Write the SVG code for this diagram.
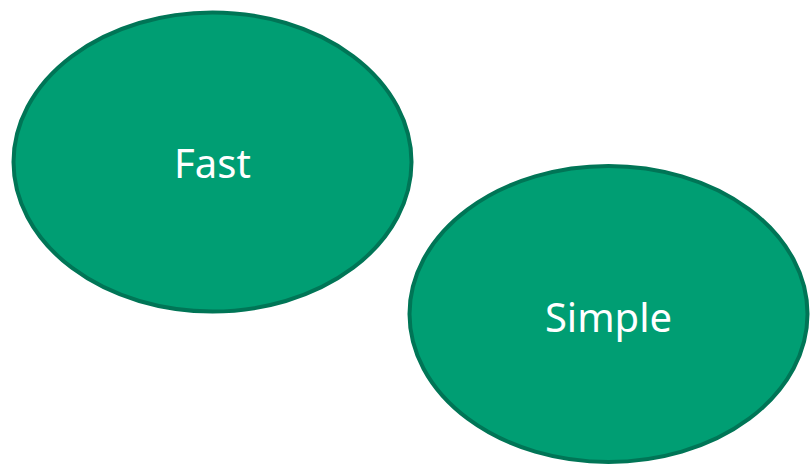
<svg xmlns="http://www.w3.org/2000/svg" width="810" height="464" viewBox="0 0 810 464">
<style>
.node ellipse{fill:#009e73;stroke:#007556;stroke-width:4}
.node text{fill:#ffffff;font-family:"Noto Sans","Open Sans",sans-serif;font-size:40px;text-anchor:middle}
</style>
<rect width="810" height="464" fill="#ffffff"/>
<g id="connectors"></g>
<g id="fast" class="node">
<ellipse cx="212.5" cy="162" rx="199" ry="149.5"/>
<text x="212.5" y="178">Fast</text>
</g>
<g id="simple" class="node">
<ellipse cx="608.5" cy="314" rx="199" ry="148"/>
<text x="608.5" y="332">Simple</text>
</g>
</svg>
